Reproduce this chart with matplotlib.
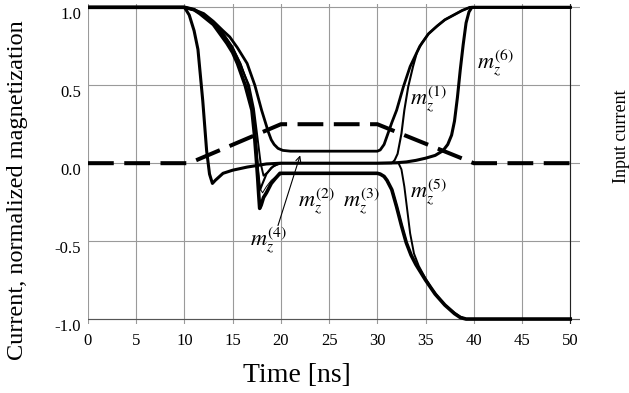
import matplotlib
matplotlib.use("Agg")
import matplotlib.pyplot as plt

plt.rcParams['font.family'] = ['Liberation Serif', 'DejaVu Serif']
plt.rcParams['mathtext.fontset'] = 'stix'

# ---- data ----
x_ticks = [0, 5, 10, 15, 20, 25, 30, 35, 40, 45, 50]
y_ticks = [-1.0, -0.5, 0.0, 0.5, 1.0]
y_tick_labels = ["-1.0", "-0.5", "0.0", "0.5", "1.0"]

current_t = [0, 10.5, 20, 30, 40, 50]
current_v = [0, 0, 0.25, 0.25, 0, 0]

# m6: earliest switching, latest return
m6_t = [0, 10, 10.5, 11.0, 11.4, 11.9, 12.3, 12.6, 12.9, 13.2, 14.0, 15.0, 16.5, 18.5, 20,
        30, 32, 33, 34, 35, 36, 36.8, 37.3, 37.7, 38.0, 38.3, 38.6, 38.9, 39.2, 39.5, 39.8, 50]
m6_v = [1, 1, 0.95, 0.85, 0.73, 0.4, 0.08, -0.07, -0.13, -0.11, -0.065, -0.045, -0.025, -0.005, 0,
        0, 0.003, 0.008, 0.018, 0.032, 0.05, 0.08, 0.12, 0.18, 0.27, 0.42, 0.6, 0.76, 0.9, 0.97, 1.0, 1.0]

# upper plateau curve (arrowed m4)
m4_t = [0, 10, 11, 12, 13, 14, 14.7, 15.5, 16.5, 17.3, 18.0, 18.4, 18.7, 19.0, 19.3, 19.7, 20.2, 21,
        30, 30.3, 30.7, 31.1, 31.5, 32.0, 32.7, 33.4, 34.4, 35.3, 36.2, 37.0, 37.9, 38.8, 39.6, 50]
m4_v = [1, 1, 0.985, 0.96, 0.91, 0.85, 0.81, 0.74, 0.64, 0.5, 0.34, 0.26, 0.2, 0.15, 0.12, 0.095, 0.082, 0.077,
        0.077, 0.085, 0.12, 0.19, 0.26, 0.34, 0.49, 0.62, 0.75, 0.83, 0.88, 0.92, 0.95, 0.98, 1.0, 1.0]

# lower plateau curve, thick (m2)
m2_t = [0, 10, 11, 11.6, 12.5, 13, 13.7, 14.4, 15, 15.5, 16.3, 17.0, 17.25, 17.45, 17.6, 17.7, 17.8,
        17.95, 18.2, 18.5, 19.0, 19.4, 19.9, 30, 30.3, 30.7, 31, 31.5, 32, 32.5, 33, 33.5, 34, 35, 36,
        37, 38, 38.6, 39.2, 50]
m2_v = [1, 1, 0.985, 0.96, 0.915, 0.89, 0.83, 0.77, 0.71, 0.64, 0.5, 0.34, 0.19, 0.03, -0.1, -0.2, -0.29,
        -0.27, -0.22, -0.19, -0.13, -0.1, -0.065, -0.065, -0.07, -0.085, -0.11, -0.17, -0.28, -0.4, -0.51,
        -0.59, -0.65, -0.75, -0.84, -0.91, -0.965, -0.99, -1.0, -1.0]

# lower plateau curve, thin partner (m3)
m3_t = [0, 10, 11, 12, 13, 14, 15, 15.9, 16.6, 17.2, 17.5, 17.7, 17.9, 18.1, 18.5, 19.0, 19.5, 20.1,
        30, 30.4, 30.8, 31.1, 31.6, 32.1, 32.6, 33.1, 33.6, 34.1, 35.1, 36.1, 37.1, 38.1, 38.7, 39.3, 50]
m3_v = [1, 1, 0.985, 0.955, 0.905, 0.84, 0.75, 0.63, 0.5, 0.3, 0.12, -0.05, -0.17, -0.19, -0.15, -0.11,
        -0.085, -0.072, -0.072, -0.076, -0.09, -0.115, -0.175, -0.285, -0.405, -0.515, -0.6, -0.66, -0.76,
        -0.85, -0.915, -0.97, -0.99, -1.0, -1.0]

# m1: returns to zero, rises after 31.5
m1_t = [0, 10, 11, 12, 13, 14, 15, 15.8, 16.5, 17.0, 17.3, 17.5, 17.65, 17.85, 18.1, 18.5, 19, 19.5, 20,
        31.5, 31.8, 32.1, 32.5, 32.8, 33.2, 33.7, 34.1, 34.6, 35.3, 36.2, 37, 37.9, 38.8, 39.6, 50]
m1_v = [1, 1, 0.985, 0.955, 0.9, 0.83, 0.74, 0.64, 0.52, 0.38, 0.22, 0.05, -0.1, -0.17, -0.13, -0.07,
        -0.03, -0.01, 0, 0, 0.02, 0.06, 0.19, 0.34, 0.49, 0.62, 0.71, 0.77, 0.83, 0.88, 0.92, 0.95, 0.98, 1.0, 1.0]

# m5: returns to zero, drops after 32.2
m5_t = [0, 10, 11, 12, 13, 14, 15, 16, 16.7, 17.2, 17.6, 17.9, 18.2, 18.6, 19.2, 20,
        32.2, 32.5, 32.8, 33.1, 33.4, 33.8, 34.3, 35, 35.6, 36.2, 37, 38, 38.6, 39.2, 50]
m5_v = [1, 1, 0.98, 0.95, 0.89, 0.82, 0.72, 0.6, 0.5, 0.35, 0.15, 0.0, -0.08, -0.06, -0.02, 0,
        0, -0.04, -0.15, -0.3, -0.45, -0.58, -0.66, -0.74, -0.8, -0.85, -0.91, -0.96, -0.985, -1.0, -1.0]

labels = ["$m_z^{(1)}$", "$m_z^{(2)}$", "$m_z^{(3)}$", "$m_z^{(4)}$", "$m_z^{(5)}$", "$m_z^{(6)}$"]
label_xy = [(35.3, 0.405), (23.65, -0.245), (28.4, -0.245), (18.7, -0.495), (35.3, -0.19), (42.3, 0.64)]
arrow_tip = (22.0, 0.05)
arrow_tail = (19.7, -0.40)

# ---- figure ----
fig = plt.figure(figsize=(6.29, 3.93), dpi=100)
ax = fig.add_axes([0.1399, 0.1763, 0.782, 0.813])
ax.set_xlim(0, 51)
ax.set_ylim(-1.03, 1.02)

for s in ax.spines.values():
    s.set_visible(False)

for xv in x_ticks:
    ax.axvline(xv, color='#9a9a9a', lw=0.8, zorder=0)
for yv in y_ticks:
    ax.axhline(yv, color='#9a9a9a', lw=0.8, zorder=0)
ax.axvline(50, color='#222222', lw=0.8, zorder=0.5)
ax.axhline(-1.0, color='#555555', lw=0.8, zorder=0.5)

ax.set_xticks(x_ticks)
ax.set_xticklabels([str(v) for v in x_ticks], fontsize=12)
ax.set_yticks(y_ticks)
ax.set_yticklabels(y_tick_labels, fontsize=12)
ax.tick_params(axis='both', length=0)
ax.tick_params(axis='x', pad=7)
ax.tick_params(axis='y', pad=5)
for lab in ax.get_yticklabels():
    lab.set_va('top')

ax.plot(current_t, current_v, color='black', lw=2.9, dashes=(6.4, 2.6), solid_capstyle='butt',
        dash_capstyle='butt', zorder=3)
ax.plot(m6_t, m6_v, color='black', lw=2.2, zorder=4)
ax.plot(m4_t, m4_v, color='black', lw=2.0, zorder=4)
ax.plot(m2_t, m2_v, color='black', lw=2.6, zorder=4)
ax.plot(m3_t, m3_v, color='black', lw=0.7, zorder=4)
ax.plot(m1_t, m1_v, color='black', lw=1.5, zorder=4)
ax.plot(m5_t, m5_v, color='black', lw=1.4, zorder=4)

for lab, (lx, ly) in zip(labels, label_xy):
    ax.text(lx, ly, lab, fontsize=16, ha='center', va='center', zorder=6)

ax.annotate("", xy=arrow_tip, xytext=arrow_tail,
            arrowprops=dict(arrowstyle='->', lw=0.8, color='black', shrinkA=0, shrinkB=0,
                            mutation_scale=9), zorder=6)

fig.text(18 / 629, 1 - 190 / 393, "Current, normalized magnetization", rotation=90,
         ha='center', va='center', fontsize=17.5)
fig.text(297 / 629, 1 - 375 / 393, "Time [ns]", ha='center', va='center', fontsize=20)
fig.text(621 / 629, 1 - 136 / 393, "Input current", rotation=90, ha='center', va='center', fontsize=13)

fig.savefig("out.png", dpi=100)
